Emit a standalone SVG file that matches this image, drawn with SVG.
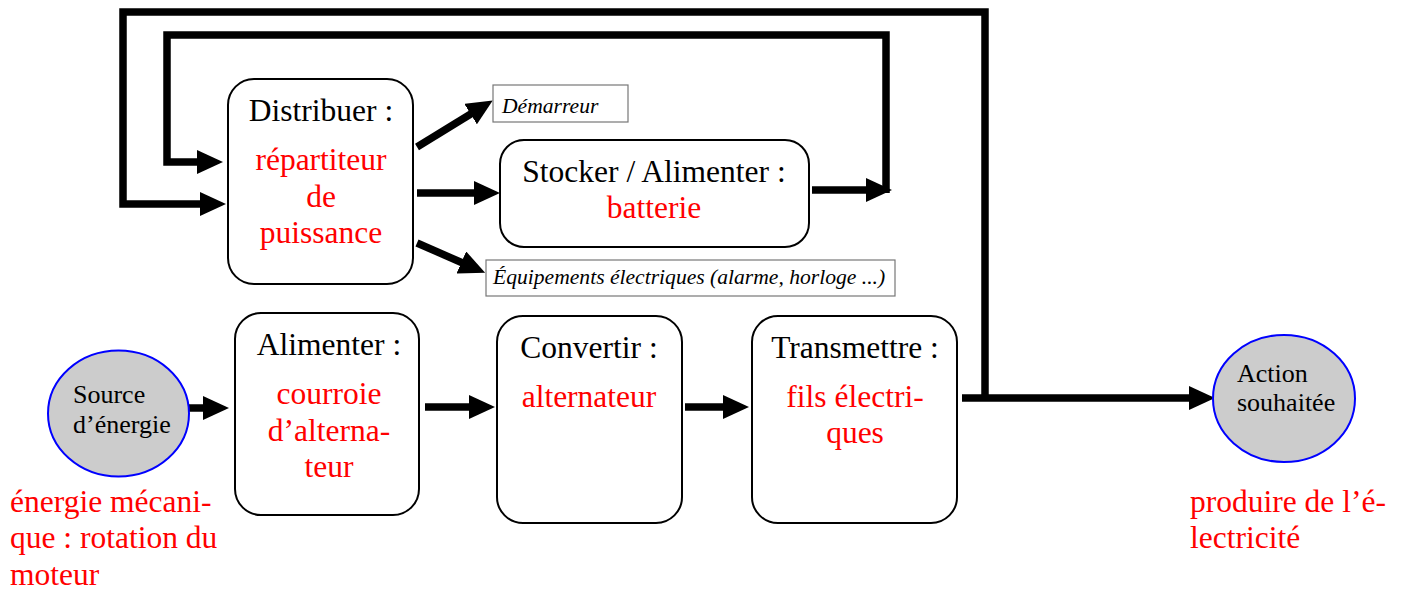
<svg xmlns="http://www.w3.org/2000/svg" width="1406" height="593" viewBox="0 0 1406 593">
<style>
.box{fill:#fff;stroke:#000;stroke-width:2}
.lbl{fill:#fff;stroke:#777;stroke-width:1.2}
.ell{fill:#cccccc;stroke:#0000ff;stroke-width:2}
.t{font-family:"Liberation Serif","Times New Roman",serif;font-size:31.5px;fill:#000}
.r{font-family:"Liberation Serif","Times New Roman",serif;font-size:31.5px;fill:#ff0000}
.s{font-family:"Liberation Serif","Times New Roman",serif;font-size:26px;fill:#000}
.i{font-family:"Liberation Serif","Times New Roman",serif;font-size:21.6px;font-style:italic;fill:#000}
.c{text-anchor:middle}
.w{fill:none;stroke:#000;stroke-width:7.5;stroke-linejoin:miter;stroke-linecap:butt}
</style>
<defs>
<marker id="ah" markerUnits="userSpaceOnUse" markerWidth="26" markerHeight="24" refX="4" refY="12" orient="auto" viewBox="0 0 26 24">
<path d="M0,0 L26,12 L0,24 z" fill="#000"/>
</marker>
</defs>
<g id="connectors">
<path class="w" d="M985,401 L985,12 L123,12 L123,204 L204,204" marker-end="url(#ah)"/>
<path class="w" d="M886,193 L886,35 L167,35 L167,162 L201,162" marker-end="url(#ah)"/>
<path class="w" d="M812,190 L870,190" marker-end="url(#ah)"/>
<path class="w" d="M417,193 L478,193" marker-end="url(#ah)"/>
<path class="w" d="M417,147 L474,112" marker-end="url(#ah)"/>
<path class="w" d="M417,243 L465,264" marker-end="url(#ah)"/>
<path class="w" d="M189,408 L207,408" marker-end="url(#ah)"/>
<path class="w" d="M425,407 L473,407" marker-end="url(#ah)"/>
<path class="w" d="M685,407 L727,407" marker-end="url(#ah)"/>
<path class="w" d="M962,398 L1193,398" marker-end="url(#ah)"/>
</g>
<g id="distribuer">
<rect class="box" x="228" y="79" width="185" height="205" rx="26"/>
<text class="t c" x="321" y="121">Distribuer :</text>
<text class="r c" x="321" y="170">répartiteur</text>
<text class="r c" x="321" y="207">de</text>
<text class="r c" x="321" y="243">puissance</text>
</g>
<g id="demarreur">
<rect class="lbl" x="493" y="85" width="135" height="37"/>
<text class="i" x="502" y="113">Démarreur</text>
</g>
<g id="stocker">
<rect class="box" x="500" y="140" width="309" height="107" rx="24"/>
<text class="t c" x="654" y="182">Stocker / Alimenter :</text>
<text class="r c" x="654" y="218">batterie</text>
</g>
<g id="equipements">
<rect class="lbl" x="486" y="260" width="409" height="36"/>
<text class="i" x="493" y="284">Équipements électriques (alarme, horloge ...)</text>
</g>
<g id="source">
<ellipse class="ell" cx="118.5" cy="413.5" rx="70.5" ry="63"/>
<text class="s" x="73" y="403">Source</text>
<text class="s" x="73" y="433">d’énergie</text>
<text class="r" x="10" y="512">énergie mécani-</text>
<text class="r" x="10" y="548">que : rotation du</text>
<text class="r" x="10" y="585">moteur</text>
</g>
<g id="alimenter">
<rect class="box" x="235" y="313" width="184" height="202" rx="26"/>
<text class="t c" x="329" y="355">Alimenter :</text>
<text class="r c" x="329" y="404">courroie</text>
<text class="r c" x="329" y="441">d’alterna-</text>
<text class="r c" x="329" y="477">teur</text>
</g>
<g id="convertir">
<rect class="box" x="497" y="316" width="185" height="207" rx="26"/>
<text class="t c" x="589" y="358">Convertir :</text>
<text class="r c" x="589" y="407">alternateur</text>
</g>
<g id="transmettre">
<rect class="box" x="752" y="316" width="205" height="207" rx="26"/>
<text class="t c" x="855" y="358">Transmettre :</text>
<text class="r c" x="855" y="407">fils électri-</text>
<text class="r c" x="855" y="443">ques</text>
</g>
<g id="action">
<ellipse class="ell" cx="1284" cy="398.5" rx="71" ry="63.5"/>
<text class="s" x="1237" y="382">Action</text>
<text class="s" x="1237" y="411">souhaitée</text>
<text class="r" x="1190" y="512">produire de l’é-</text>
<text class="r" x="1190" y="548">lectricité</text>
</g>
</svg>
